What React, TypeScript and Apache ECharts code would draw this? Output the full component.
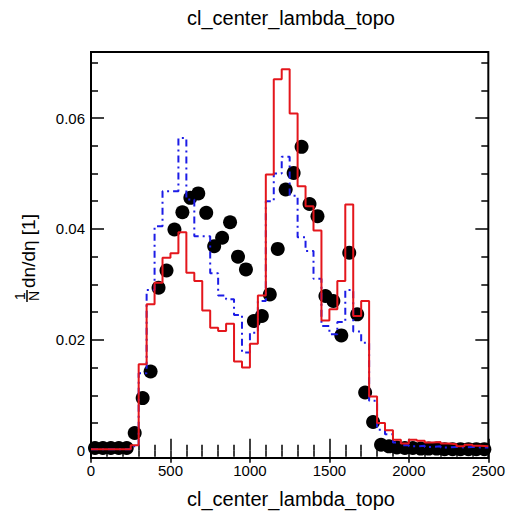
import React, { useEffect, useRef } from "react";
import * as echarts from "echarts";

// bin lower edges (width 50) of cl_center_lambda_topo
const binEdges = [
  0, 50, 100, 150, 200, 250, 300, 350, 400, 450,
  500, 550, 600, 650, 700, 750, 800, 850, 900, 950,
  1000, 1050, 1100, 1150, 1200, 1250, 1300, 1350, 1400, 1450,
  1500, 1550, 1600, 1650, 1700, 1750, 1800, 1850, 1900, 1950,
  2000, 2050, 2100, 2150, 2200, 2250, 2300, 2350, 2400, 2450,
];
const binWidth = 50;

// red solid histogram
const redValues = [
  0.0003, 0.0003, 0.0003, 0.0003, 0.0003, 0.001, 0.0156, 0.0264, 0.0303, 0.0348,
  0.0356, 0.0394, 0.0321, 0.0306, 0.0253, 0.0222, 0.0216, 0.0229, 0.0161, 0.015,
  0.0193, 0.028, 0.0498, 0.067, 0.0688, 0.0608, 0.0477, 0.0441, 0.0397, 0.0235,
  0.0255, 0.0306, 0.0444, 0.0243, 0.027, 0.0098, 0.005, 0.0037, 0.002, 0.0013,
  0.002, 0.0018, 0.0015, 0.0016, 0.0013, 0.0012, 0.0008, 0.0011, 0.0009, 0.0008,
];

// blue dash-dot histogram
const blueValues = [
  0.0003, 0.0003, 0.0003, 0.0003, 0.0003, 0.0008, 0.014, 0.029, 0.0405, 0.0468,
  0.0468, 0.0564, 0.0453, 0.0387, 0.0387, 0.032, 0.028, 0.0273, 0.0245, 0.0177,
  0.0213, 0.027, 0.045, 0.05, 0.053, 0.046, 0.0385, 0.036, 0.031, 0.0225,
  0.021, 0.0232, 0.029, 0.0215, 0.0195, 0.009, 0.0038, 0.003, 0.0015, 0.001,
  0.0008, 0.0009, 0.0007, 0.0008, 0.0006, 0.0007, 0.0006, 0.0007, 0.0006, 0.0006,
];

// black markers (data)
const dotValues = [
  0.0005, 0.0005, 0.0005, 0.0005, 0.0005, 0.0032, 0.0095, 0.0143, 0.0294, 0.0325,
  0.0399, 0.043, 0.0456, 0.0464, 0.0429, 0.0369, 0.0384, 0.0412, 0.035, 0.0327,
  0.0234, 0.0243, 0.0282, 0.0364, 0.0471, 0.0501, 0.0548, 0.0445, 0.0423, 0.0279,
  0.027, 0.0208, 0.0357, 0.0246, 0.0105, 0.0052, 0.0011, 0.0008, 0.0006, 0.0005,
  0.0005, 0.0004, 0.0004, 0.0004, 0.0003, 0.0003, 0.0003, 0.0003, 0.0003, 0.0003,
];

const yMajorTicks = [0, 0.02, 0.04, 0.06];
const yMinorTicks = [0.005, 0.01, 0.015, 0.025, 0.03, 0.035, 0.045, 0.05, 0.055, 0.065, 0.07];

const titleText = "cl_center_lambda_topo";
const xTitle = "cl_center_lambda_topo";

const FONT = "'Liberation Sans', Arial, Helvetica, sans-serif";

function stepData(values: number[]) {
  const d: [number, number][] = values.map((v, i) => [binEdges[i], v]);
  d.push([binEdges[binEdges.length - 1] + binWidth, values[values.length - 1]]);
  return d;
}

export default function App() {
  const ref = useRef<HTMLDivElement>(null);
  useEffect(() => {
    if (!ref.current) return;
    const chart = echarts.init(ref.current, undefined, { renderer: "svg" });
    const yMin = -0.0013;
    const yMax = 0.0719;
    const yAxisBase = (position: "left" | "right", ticks: number[], len: number, labels: boolean) => ({
      type: "value",
      position,
      min: yMin,
      max: yMax,
      axisLine: { show: false },
      splitLine: { show: false },
      axisTick: {
        show: true,
        inside: true,
        length: len,
        customValues: ticks,
        lineStyle: { color: "#000", width: 1.5 },
      },
      axisLabel: labels
        ? {
            show: true,
            customValues: ticks,
            color: "#000",
            fontSize: 15,
            fontFamily: FONT,
            margin: 6,
            formatter: (v: number) => (v === 0 ? "0" : v.toFixed(2)),
          }
        : { show: false },
    });
    const xAxisBase = (position: "top" | "bottom", labels: boolean) => ({
      type: "value",
      position,
      min: 0,
      max: 2500,
      interval: 500,
      axisLine: { show: false },
      splitLine: { show: false },
      axisTick: { show: true, inside: true, length: 12, lineStyle: { color: "#000", width: 1.5 } },
      minorTick: { show: true, splitNumber: 5, length: 6, lineStyle: { color: "#000", width: 1.5 } },
      axisLabel: labels
        ? {
            show: true,
            color: "#000",
            fontSize: 15,
            fontFamily: FONT,
            margin: 5,
            formatter: (v: number) => String(v),
          }
        : { show: false },
    });
    chart.setOption({
      animation: false,
      backgroundColor: "#fff",
      grid: {
        left: 91,
        top: 52,
        width: 400,
        height: 406,
        show: true,
        borderColor: "#000",
        borderWidth: 2,
        backgroundColor: "transparent",
        containLabel: false,
      },
      xAxis: [xAxisBase("bottom", true), xAxisBase("top", false)],
      yAxis: [
        yAxisBase("left", yMajorTicks, 13, true),
        yAxisBase("left", yMinorTicks, 7, false),
        yAxisBase("right", yMajorTicks, 13, false),
        yAxisBase("right", yMinorTicks, 7, false),
      ],
      series: [
        {
          type: "scatter",
          xAxisIndex: 0,
          yAxisIndex: 0,
          symbol: "circle",
          symbolSize: 14,
          itemStyle: { color: "#000", opacity: 1 },
          data: dotValues.map((v, i) => [binEdges[i] + binWidth / 2, v]),
        },
        {
          type: "line",
          xAxisIndex: 0,
          yAxisIndex: 0,
          step: "end",
          showSymbol: false,
          symbol: "none",
          lineStyle: { color: "#1c1ce6", width: 2, type: [7, 4, 2, 4] },
          data: stepData(blueValues),
        },
        {
          type: "line",
          xAxisIndex: 0,
          yAxisIndex: 0,
          step: "end",
          showSymbol: false,
          symbol: "none",
          lineStyle: { color: "#e4161c", width: 2 },
          data: stepData(redValues),
        },
      ],
      graphic: [
        {
          type: "text",
          x: 291,
          y: 18,
          style: { text: titleText, fontSize: 20, fontFamily: FONT, fill: "#000", align: "center", verticalAlign: "middle" },
        },
        {
          type: "text",
          x: 291,
          y: 499,
          style: { text: xTitle, fontSize: 20, fontFamily: FONT, fill: "#000", align: "center", verticalAlign: "middle" },
        },
        {
          type: "group",
          x: 27,
          y: 296,
          rotation: Math.PI / 2,
          children: [
            { type: "text", x: 0, y: -7, style: { text: "1", fontSize: 14, fontFamily: FONT, fill: "#000", align: "center", verticalAlign: "middle" } },
            { type: "line", shape: { x1: -6, y1: 0, x2: 6, y2: 0 }, style: { stroke: "#000", lineWidth: 1.5 } },
            { type: "text", x: 0, y: 7, style: { text: "N", fontSize: 14, fontFamily: FONT, fill: "#000", align: "center", verticalAlign: "middle" } },
            { type: "text", x: 8, y: 1, style: { text: "dn/dη [1]", fontSize: 19, fontFamily: FONT, fill: "#000", align: "left", verticalAlign: "middle" } },
          ],
        },
      ],
    });
    return () => chart.dispose();
  }, []);
  return <div ref={ref} style={{ position: "fixed", left: 0, top: 0, width: 508, height: 515 }} />;
}
